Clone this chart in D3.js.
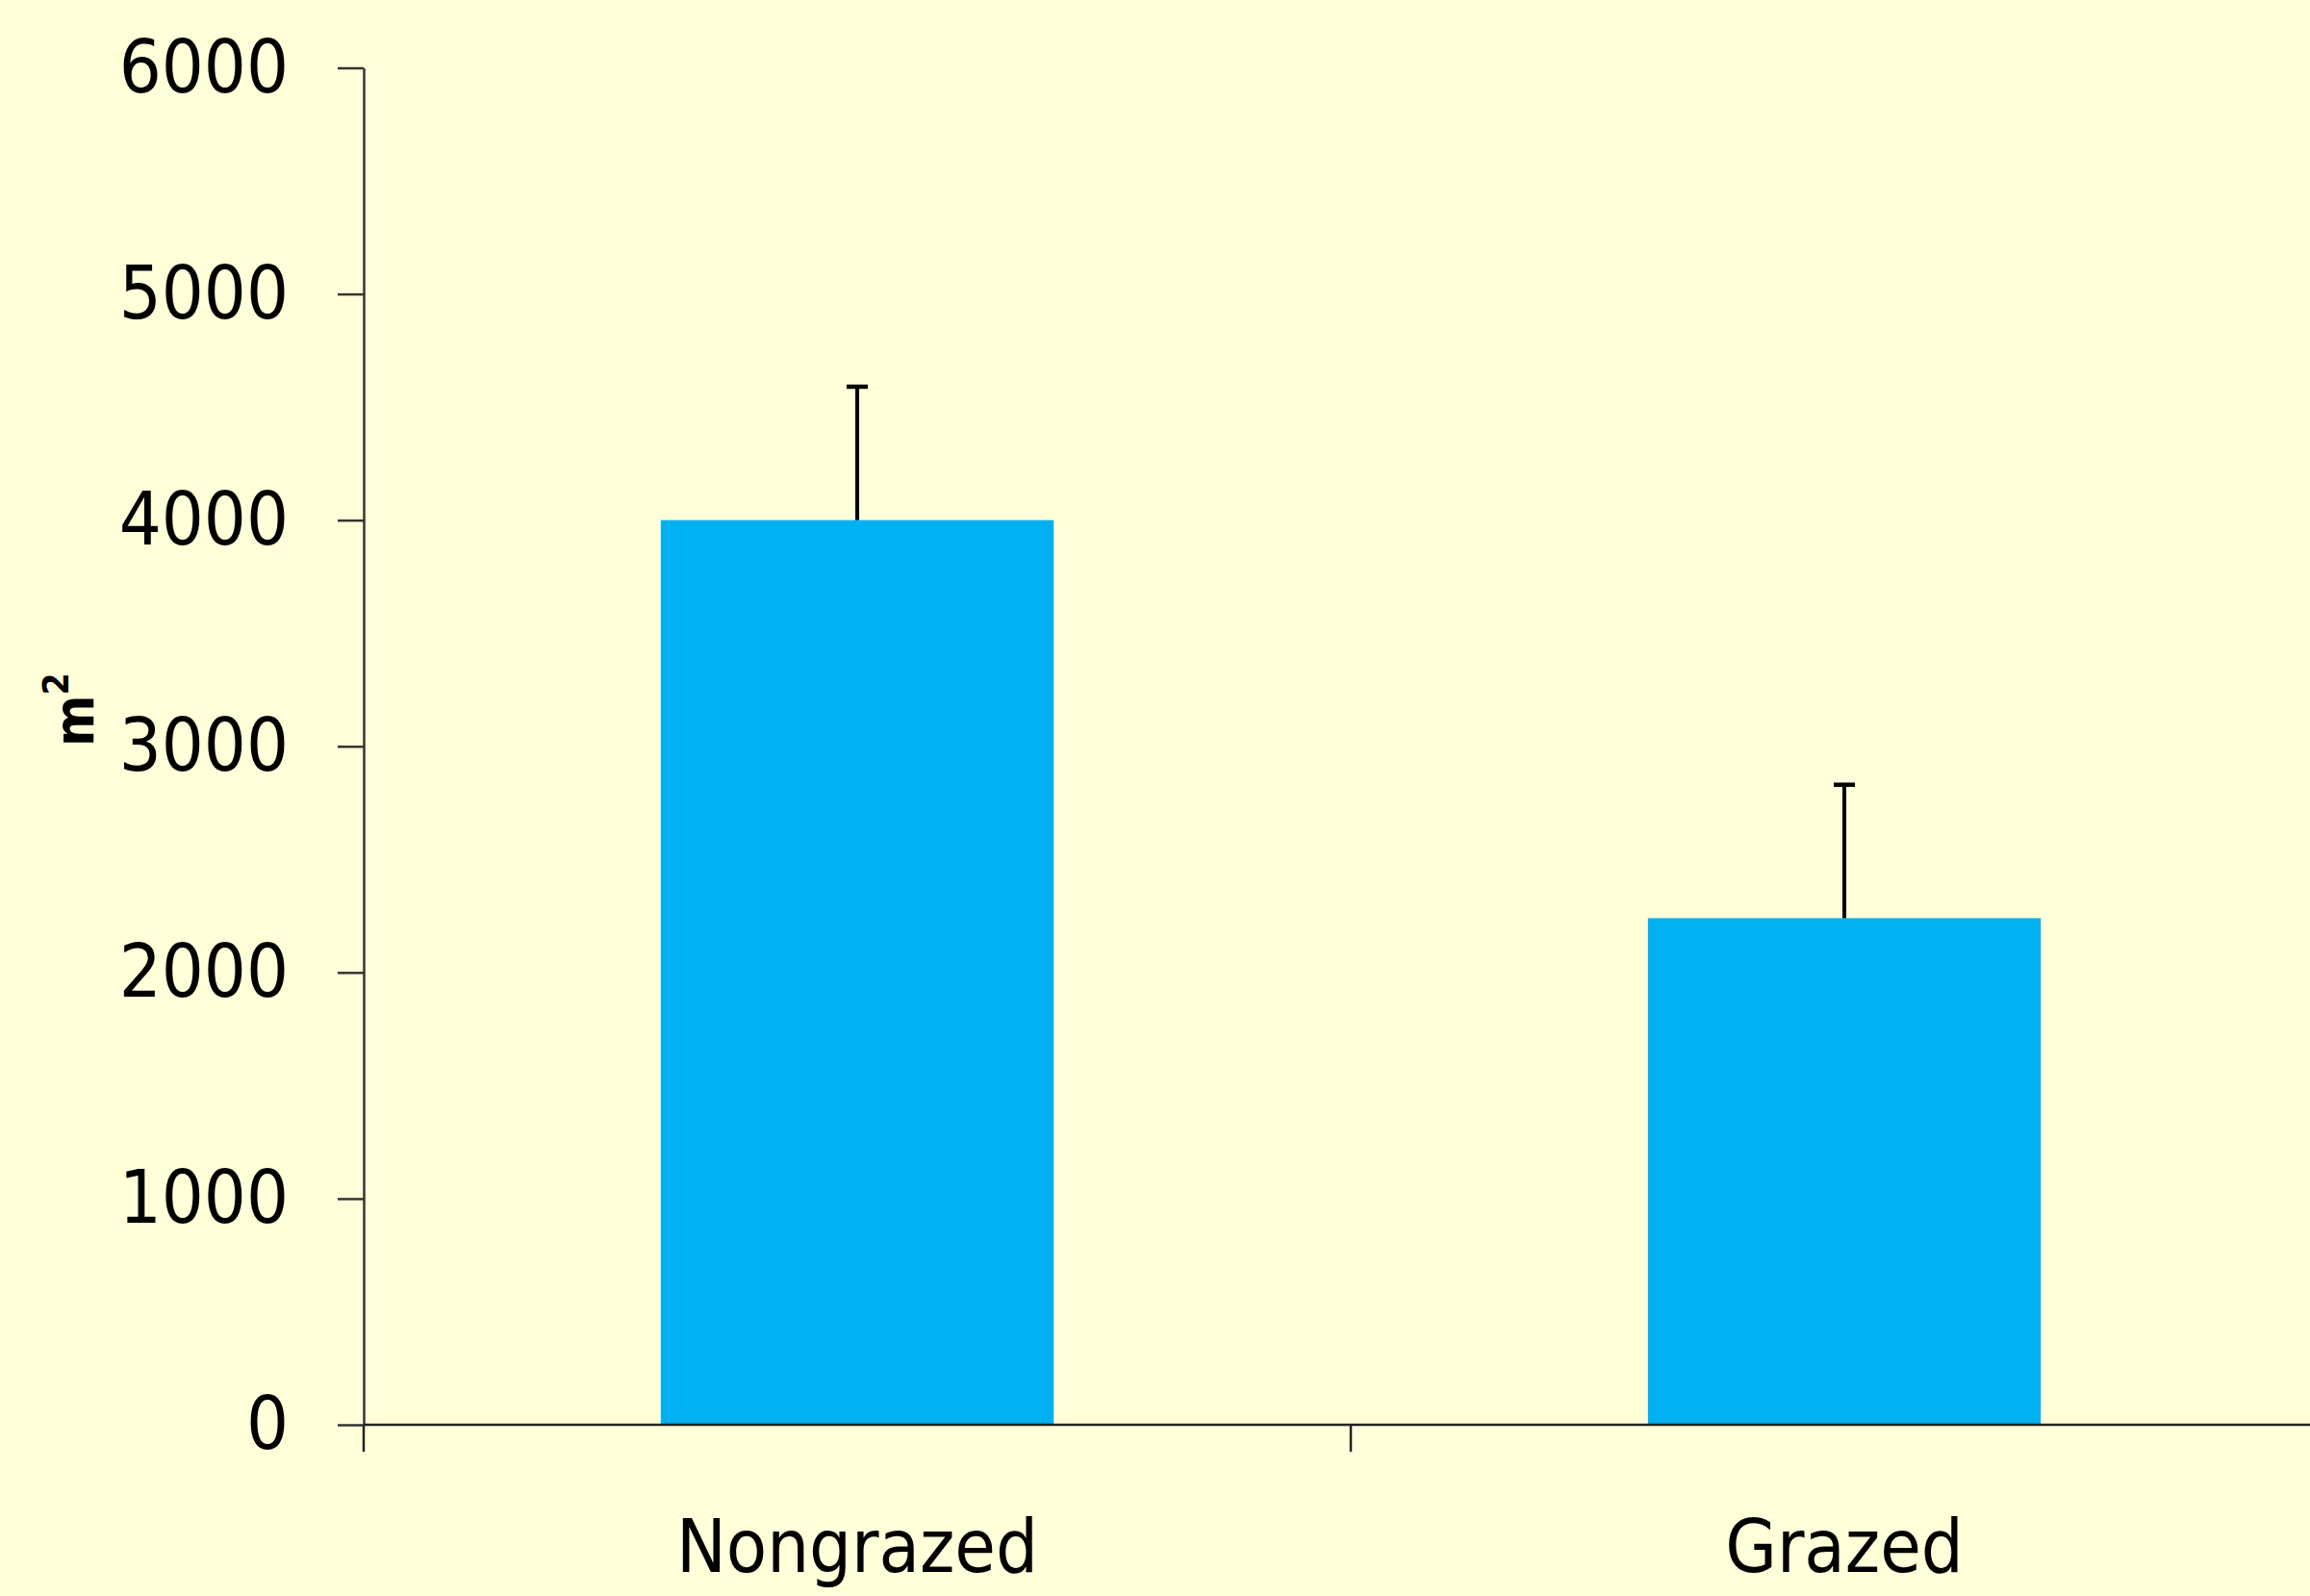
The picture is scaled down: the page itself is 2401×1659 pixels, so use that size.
<!DOCTYPE html>
<html>
<head>
<meta charset="utf-8">
<script src="https://cdn.jsdelivr.net/npm/d3@7/dist/d3.min.js"></script>
<style>
  html, body { margin: 0; padding: 0; background: #FFFFD9; }
  svg { display: block; }
  text { font-family: "DejaVu Sans Condensed", "DejaVu Sans", sans-serif; fill: #000; }
</style>
</head>
<body>
<script>
const categories = ["Nongrazed", "Grazed"];
const means = [4000, 2240];
const errors = [590, 590];
const yTicks = [0, 1000, 2000, 3000, 4000, 5000, 6000];
const yLabel = "m";
const yLabelSup = "2";

const W = 2401, H = 1659;
const svg = d3.select("body").append("svg").attr("width", W).attr("height", H);
svg.append("rect").attr("width", W).attr("height", H).attr("fill", "#FFFFD9");

const x0 = 378, x1 = 2430, yBottom = 1481, yTop = 70.5;
const y = d3.scaleLinear().domain([0, 6000]).range([yBottom, yTop]);
const x = d3.scaleBand().domain(categories).range([x0, x1]).padding(0);
const barW = x.bandwidth() * 0.398;

// bars
svg.selectAll("rect.bar").data(categories).enter().append("rect")
  .attr("class", "bar")
  .attr("x", d => x(d) + x.bandwidth() / 2 - barW / 2)
  .attr("width", barW)
  .attr("y", (d, i) => y(means[i]))
  .attr("height", (d, i) => y(0) - y(means[i]))
  .attr("fill", "#00B0F0");

// error bars
const capW = 22;
categories.forEach((c, i) => {
  const cx = x(c) + x.bandwidth() / 2;
  svg.append("line").attr("x1", cx).attr("x2", cx)
    .attr("y1", y(means[i])).attr("y2", y(means[i] + errors[i]))
    .attr("stroke", "#000").attr("stroke-width", 4);
  svg.append("line").attr("x1", cx - capW / 2).attr("x2", cx + capW / 2)
    .attr("y1", y(means[i] + errors[i])).attr("y2", y(means[i] + errors[i]))
    .attr("stroke", "#000").attr("stroke-width", 4.5);
});

// y axis
const yAxis = d3.axisLeft(y).tickValues(yTicks).tickFormat(d3.format("d"))
  .tickSize(27).tickSizeOuter(0).tickPadding(51);
const gy = svg.append("g").attr("transform", `translate(${x0},0)`).call(yAxis);
gy.select(".domain").attr("stroke", "#333").attr("stroke-width", 2.5);
gy.selectAll(".tick line").attr("stroke", "#333").attr("stroke-width", 2.5);
gy.selectAll(".tick text").attr("font-size", 77).attr("font-family", '"DejaVu Sans Condensed", "DejaVu Sans", sans-serif');

// x axis
const xAxis = d3.axisBottom(x).tickSize(0).tickPadding(98);
const gx = svg.append("g").attr("transform", `translate(0,${yBottom})`).call(xAxis);
gx.select(".domain").remove();
gx.selectAll(".tick text").attr("font-size", 77).attr("font-family", '"DejaVu Sans Condensed", "DejaVu Sans", sans-serif');
gx.append("line").attr("x1", x0).attr("x2", W).attr("y1", 0).attr("y2", 0)
  .attr("stroke", "#222").attr("stroke-width", 2.5);
const bounds = categories.map(c => x(c)).concat([x(categories[categories.length - 1]) + x.step()]);
gx.selectAll("line.bt").data(bounds).enter().append("line").attr("class", "bt")
  .attr("x1", d => d).attr("x2", d => d).attr("y1", 0).attr("y2", 28)
  .attr("stroke", "#222").attr("stroke-width", 2.5);

// y label
const yl = svg.append("text").attr("transform", "translate(97,776) rotate(-90)")
  .attr("font-weight", "bold").attr("font-size", 57);
yl.append("tspan").text(yLabel);
yl.append("tspan").attr("font-size", 37).attr("dy", -26).text(yLabelSup);
</script>
</body>
</html>
